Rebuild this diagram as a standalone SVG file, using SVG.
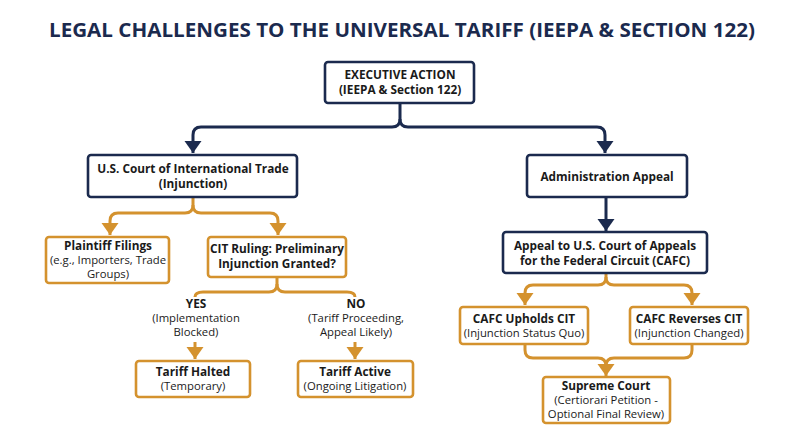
<svg xmlns="http://www.w3.org/2000/svg" width="800" height="447" viewBox="0 0 800 447">
<defs>
<style>
.title{font-family:"Open Sans","Liberation Sans",sans-serif;font-weight:700;font-size:19px;fill:#1b2a4e;text-anchor:middle}
.nb{fill:#fff;stroke:#1b2a4e;stroke-width:2.6}
.ob{fill:#fff;stroke:#d4922e;stroke-width:2.6}
.b{font-family:"Open Sans","Liberation Sans",sans-serif;font-weight:700;font-size:11.8px;fill:#1a1a1a;text-anchor:middle}
.r{font-family:"Open Sans","Liberation Sans",sans-serif;font-weight:400;font-size:11.3px;fill:#1a1a1a;text-anchor:middle}
.nc{fill:none;stroke:#1b2a4e;stroke-width:3}
.oc{fill:none;stroke:#d4922e;stroke-width:3}
</style>
<marker id="an" markerUnits="userSpaceOnUse" markerWidth="13" markerHeight="18" refX="12" refY="9" orient="auto" viewBox="0 0 13 18">
<path d="M0,0.5 L12,9 L0,17.5 Z" fill="#1b2a4e"/>
</marker>
<marker id="ao" markerUnits="userSpaceOnUse" markerWidth="13" markerHeight="18" refX="12" refY="9" orient="auto" viewBox="0 0 13 18">
<path d="M0,0.5 L12,9 L0,17.5 Z" fill="#d4922e"/>
</marker>
</defs>
<rect width="800" height="447" fill="#fff"/>
<text class="title" x="402" y="37" textLength="706" lengthAdjust="spacingAndGlyphs">LEGAL CHALLENGES TO THE UNIVERSAL TARIFF (IEEPA &amp; SECTION 122)</text>

<g id="connectors">
<path class="nc" d="M400,103 V119 Q400,127 392,127 H201 Q193,127 193,135 V153" marker-end="url(#an)"/>
<path class="nc" d="M400,119 Q400,127 408,127 H597 Q605,127 605,135 V153" marker-end="url(#an)"/>
<path class="nc" d="M606,197 V231" marker-end="url(#an)"/>
<path class="oc" d="M193,197 V205 Q193,213 185,213 H118 Q110,213 110,221 V235" marker-end="url(#ao)"/>
<path class="oc" d="M193,205 Q193,213 201,213 H270 Q278,213 278,221 V235" marker-end="url(#ao)"/>
<path class="oc" d="M277,277 V284 Q277,292 269,292 H203 Q195,292 195,297"/>
<path class="oc" d="M277,284 Q277,292 285,292 H347 Q355,292 355,297"/>
<path class="oc" d="M195,342 V359" marker-end="url(#ao)"/>
<path class="oc" d="M355,342 V359" marker-end="url(#ao)"/>
<path class="oc" d="M606,273 V277 Q606,285 598,285 H533 Q525,285 525,293 V305" marker-end="url(#ao)"/>
<path class="oc" d="M606,277 Q606,285 614,285 H684 Q692,285 692,293 V305" marker-end="url(#ao)"/>
<path class="oc" d="M525,344 V350 Q525,358 533,358 H598 Q606,358 606,366 V376" marker-end="url(#ao)"/>
<path class="oc" d="M692,344 V350 Q692,358 684,358 H614 Q606,358 606,366"/>
</g>

<g id="exec">
<rect class="nb" x="325" y="62" width="149" height="41" rx="3"/>
<text class="b" x="400" y="79">EXECUTIVE ACTION</text>
<text class="b" x="400" y="94">(IEEPA &amp; Section 122)</text>
</g>
<g id="cit">
<rect class="nb" x="88" y="155" width="209" height="42" rx="3"/>
<text class="b" x="193" y="173">U.S. Court of International Trade</text>
<text class="b" x="193" y="188">(Injunction)</text>
</g>
<g id="admin">
<rect class="nb" x="527" y="155" width="160" height="42" rx="3"/>
<text class="b" x="607" y="181">Administration Appeal</text>
</g>
<g id="cafc">
<rect class="nb" x="503" y="232" width="204" height="41" rx="3"/>
<text class="b" x="605" y="250">Appeal to U.S. Court of Appeals</text>
<text class="b" x="605" y="265">for the Federal Circuit (CAFC)</text>
</g>
<g id="plaintiff">
<rect class="ob" x="46" y="237" width="123" height="46" rx="3"/>
<text class="b" x="108" y="250">Plaintiff Filings</text>
<text class="r" x="108" y="264">(e.g., Importers, Trade</text>
<text class="r" x="108" y="278">Groups)</text>
</g>
<g id="ruling">
<rect class="ob" x="208" y="237" width="138" height="40" rx="3"/>
<text class="b" x="277" y="253">CIT Ruling: Preliminary</text>
<text class="b" x="277" y="268">Injunction Granted?</text>
</g>
<g id="yes">
<text class="b" x="196" y="308">YES</text>
<text class="r" x="196" y="322">(Implementation</text>
<text class="r" x="196" y="336">Blocked)</text>
</g>
<g id="no">
<text class="b" x="356" y="308">NO</text>
<text class="r" x="356" y="322">(Tariff Proceeding,</text>
<text class="r" x="356" y="336">Appeal Likely)</text>
</g>
<g id="halted">
<rect class="ob" x="136" y="361" width="114" height="36" rx="3"/>
<text class="b" x="193" y="376">Tariff Halted</text>
<text class="r" x="193" y="390">(Temporary)</text>
</g>
<g id="active">
<rect class="ob" x="298" y="361" width="115" height="36" rx="3"/>
<text class="b" x="355" y="376">Tariff Active</text>
<text class="r" x="355" y="390">(Ongoing Litigation)</text>
</g>
<g id="upholds">
<rect class="ob" x="460" y="307" width="128" height="37" rx="3"/>
<text class="b" x="524" y="323">CAFC Upholds CIT</text>
<text class="r" x="524" y="337">(Injunction Status Quo)</text>
</g>
<g id="reverses">
<rect class="ob" x="630" y="307" width="118" height="37" rx="3"/>
<text class="b" x="689" y="323">CAFC Reverses CIT</text>
<text class="r" x="689" y="337">(Injunction Changed)</text>
</g>
<g id="supreme">
<rect class="ob" x="543" y="377" width="127" height="46" rx="3"/>
<text class="b" x="606" y="390">Supreme Court</text>
<text class="r" x="606" y="404">(Certiorari Petition -</text>
<text class="r" x="606" y="418">Optional Final Review)</text>
</g>
</svg>
